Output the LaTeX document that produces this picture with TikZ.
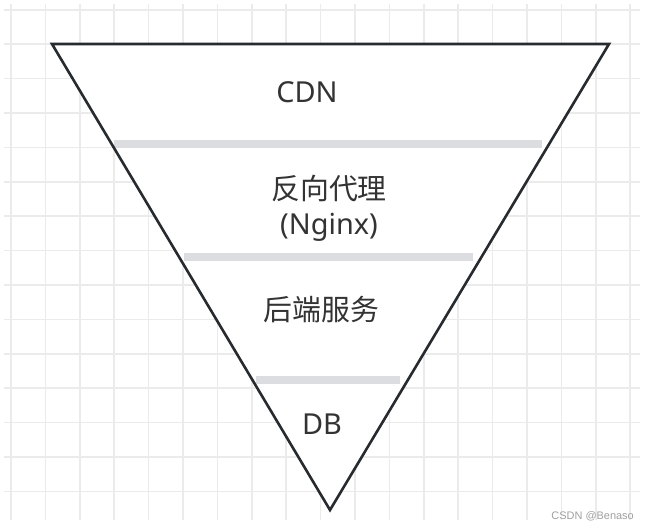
\documentclass[tikz,border=0pt]{standalone}
\usepackage{fontspec}
\setmainfont{Noto Sans}
\newfontfamily\cjk{Noto Sans CJK SC}
\newfontfamily\wmfont{Liberation Sans}
\definecolor{gridc}{HTML}{EBEBEB}
\definecolor{barc}{HTML}{DCDDE1}
\definecolor{linec}{HTML}{272B2F}
\definecolor{txtc}{HTML}{333333}
\definecolor{wmc}{HTML}{A0A0A0}
\tikzset{
  gridline/.style={draw=gridc, line width=1.5bp},
  layerbar/.style={fill=barc, draw=none},
  funnel/.style={draw=linec, line width=2.6bp, line join=miter},
  label/.style={text=txtc, inner sep=0pt, font=\fontsize{29}{35}\selectfont},
}
\begin{document}
\begin{tikzpicture}[x=1bp,y=-1bp]
\useasboundingbox[fill=white] (0,0) rectangle (649,530);
% grid
\foreach \i in {0,...,18} {
  \draw[gridline] ({11+34.4*\i},4) -- ({11+34.4*\i},520);
}
\foreach \j in {0,...,14} {
  \draw[gridline] (4,{9.8+34.4*\j}) -- (640,{9.8+34.4*\j});
}
% funnel fill
\coordinate (tl) at (52,44);
\coordinate (tr) at (609,44);
\coordinate (ap) at (330,510);
\fill[white] (tl) -- (tr) -- (ap) -- cycle;
% bars
\fill[layerbar] (114,140) rectangle (542,148);
\fill[layerbar] (184,253) rectangle (473,261);
\fill[layerbar] (256,376) rectangle (400,384);
% outline
\draw[funnel] (tl) -- (tr) -- (ap) -- cycle;
% labels
\node[label, anchor=base] (cdn) at (307,103) {CDN};
\node[label, align=center] (proxy) at (329,208) {{\cjk 反向代理}\\(Nginx)};
\node[label] (backend) at (321.5,309.5) {\cjk 后端服务};
\node[label, anchor=base] (db) at (322,434) {DB};
% watermark
\node[anchor=base east, inner sep=0pt, text=wmc, font=\wmfont\fontsize{11}{13}\selectfont] (wm) at (634,519) {CSDN @Benaso};
\end{tikzpicture}
\end{document}
